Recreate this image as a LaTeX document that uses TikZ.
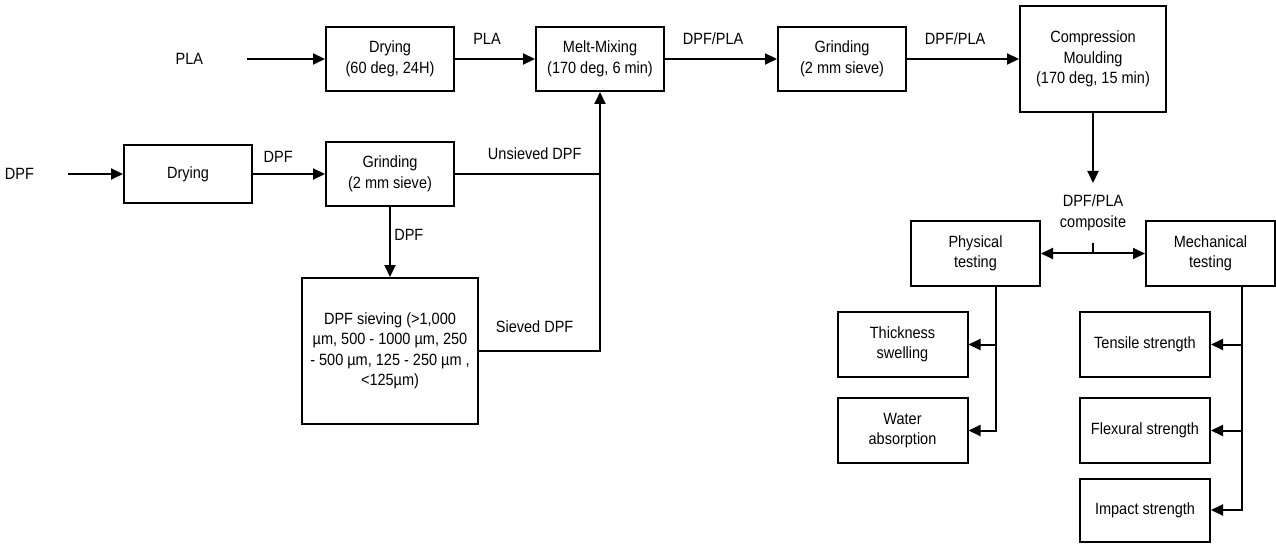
\documentclass[tikz,border=0pt]{standalone}
\usepackage{fontspec}
\setmainfont[FakeStretch=0.89]{Liberation Sans}
\usetikzlibrary{arrows.meta,positioning}

\begin{document}
\begin{tikzpicture}[
  x=1pt, y=-1pt,
  font=\fontsize{16.3}{20.5}\selectfont,
  line width=2pt,
  stage/.style={draw=black, align=center, inner sep=2pt, minimum width=128pt, minimum height=64pt},
  plain/.style={align=center, inner sep=3pt},
  lbl/.style={above=13pt, inner sep=0pt},
  arr/.style={-{Triangle[length=12pt,width=11pt]}},
  dbl/.style={{Triangle[length=12pt,width=11pt]}-{Triangle[length=12pt,width=11pt]}}
]
  \useasboundingbox (0,0) rectangle (1276,545);

  % main line
  \node[stage] (dry1) at (390,59) {Drying\\(60 deg, 24H)};
  \node[plain, left=118pt of dry1] (pla) {PLA};
  \node[stage, right=80pt of dry1] (melt) {Melt-Mixing\\(170 deg, 6 min)};
  \node[stage, right=112pt of melt] (grind2) {Grinding\\(2 mm sieve)};
  \node[stage, right=112pt of grind2, minimum width=146pt, minimum height=106pt] (comp) {Compression\\Moulding\\(170 deg, 15 min)};

  % fibre line
  \node[stage, below=49pt of dry1] (grind1) {Grinding\\(2 mm sieve)};
  \node[stage, left=72pt of grind1, minimum height=58pt] (dry2) {Drying};
  \node[plain, left=85pt of dry2] (dpf) {DPF};
  \node[stage, below=70pt of grind1, minimum width=176pt, minimum height=146pt] (sieve) {DPF sieving (>1,000\\µm, 500 - 1000 µm, 250\\- 500 µm, 125 - 250 µm ,\\<125µm)};

  % testing
  \node[plain, inner xsep=0pt, inner ysep=11pt, below=70pt of comp] (compo) {DPF/PLA\\composite};
  \node[stage, minimum width=129pt, minimum height=65pt] (phys) at (975.5,253.5) {Physical\\testing};
  \node[stage, right=104pt of phys, minimum width=129pt, minimum height=65pt] (mech) {Mechanical\\testing};
  \node[stage, minimum width=130pt, minimum height=65pt] (thick) at (902.5,344.5) {Thickness\\swelling};
  \node[stage, below=19pt of thick, minimum width=130pt, minimum height=65pt] (water) {Water\\absorption};
  \node[stage, minimum width=130pt, minimum height=65pt] (tensile) at (1145,344.5) {Tensile strength};
  \node[stage, below=19pt of tensile, minimum width=130pt, minimum height=65pt] (flex) {Flexural strength};
  \node[stage, minimum width=130pt, minimum height=63pt] (impact) at (1145,510) {Impact strength};

  \draw[arr, shorten <=40pt] (pla) -- (dry1);
  \draw[arr] (dry1) -- node[lbl, pos=0.4] {PLA} (melt);
  \draw[arr] (melt) -- node[lbl, pos=0.43] {DPF/PLA} (grind2);
  \draw[arr] (grind2) -- node[lbl, pos=0.43] {DPF/PLA} (comp);

  \draw[arr, shorten <=30pt] (dpf) -- (dry2);
  \draw[arr] (dry2) -- node[above=10pt, inner sep=0pt, pos=0.35] {DPF} (grind1);
  \draw[arr] (grind1) -- node[right, pos=0.4] {DPF} (sieve);
  \draw (grind1) -- node[lbl, pos=0.55] {Unsieved DPF} (grind1 -| melt);
  \draw[arr] (sieve) -| node[above=17pt, inner sep=0pt, pos=0.23] {Sieved DPF} (melt);

  \draw[arr] (comp) -- (compo);
  \draw (compo.south) -- (compo.south |- phys.east);
  \draw[dbl] (phys) -- (mech);
  \draw[arr] ([xshift=20pt]phys.south) |- (thick);
  \draw[arr] ([xshift=20pt]phys.south) |- (water);
  \draw[arr] ([xshift=31pt]mech.south) |- (tensile);
  \draw[arr] ([xshift=31pt]mech.south) |- (flex);
  \draw[arr] ([xshift=31pt]mech.south) |- (impact);
\end{tikzpicture}
\end{document}
